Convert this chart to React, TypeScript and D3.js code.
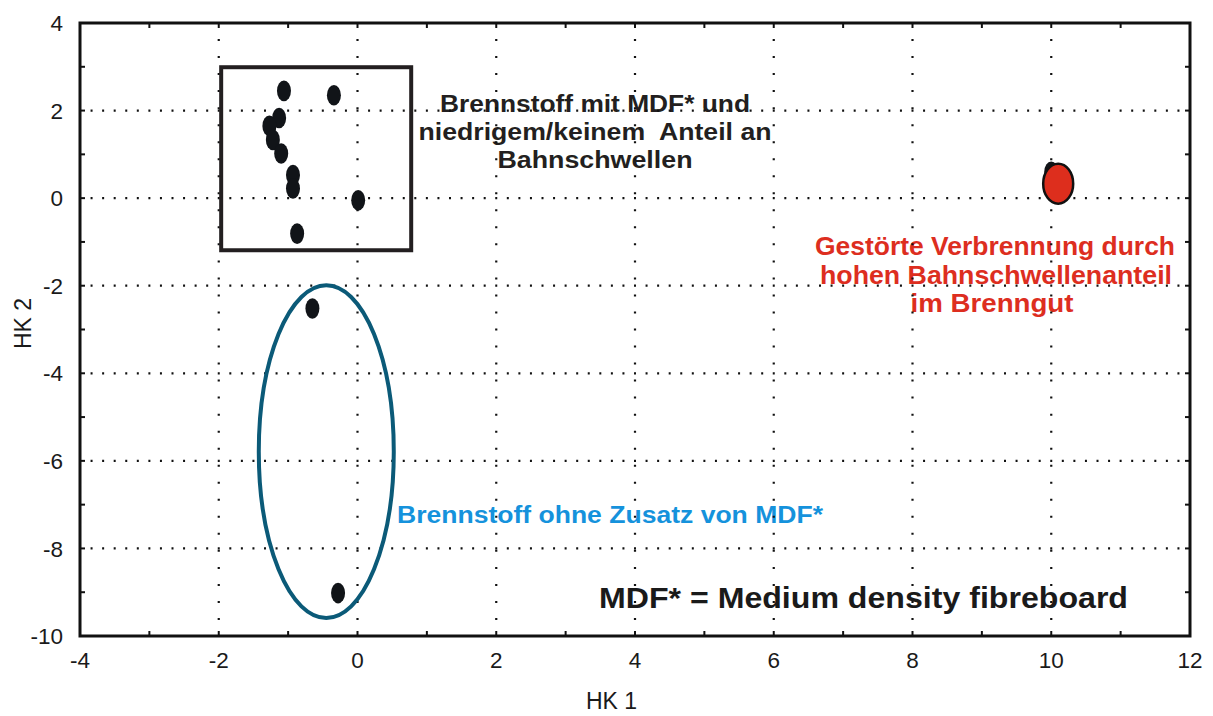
import React from "react";
import * as d3 from "d3";

const W = 1213;
const H = 716;

// data (HK1, HK2 scores)
const hk1 = [-1.06, -0.34, -1.13, -1.27, -1.22, -1.1, -0.93, -0.93, 0.01, -0.87, -0.65, -0.28, 10.0];
const hk2 = [2.45, 2.35, 1.83, 1.65, 1.33, 1.02, 0.53, 0.22, -0.05, -0.81, -2.52, -9.02, 0.6];
const redHk1 = [10.1];
const redHk2 = [0.33];

const xTickValues = [-4, -2, 0, 2, 4, 6, 8, 10, 12];
const yTickValues = [4, 2, 0, -2, -4, -6, -8, -10];
const xTickLabels = ["-4", "-2", "0", "2", "4", "6", "8", "10", "12"];
const yTickLabels = ["4", "2", "0", "-2", "-4", "-6", "-8", "-10"];

// annotation shapes in data units
const boxX = [-1.965, 0.774];
const boxY = [2.99, -1.19];
const ellCenter = [-0.45, -5.79];
const ellRadius = [0.973, 3.8];

const blackLines = ["Brennstoff mit MDF* und", "niedrigem/keinem  Anteil an", "Bahnschwellen"];
const redLines = ["Gestörte Verbrennung durch", "hohen Bahnschwellenanteil", "im Brenngut"];
const blueLabel = "Brennstoff ohne Zusatz von MDF*";
const mdfLabel = "MDF* = Medium density fibreboard";

const FONT = "'Liberation Sans', Arial, Helvetica, sans-serif";

export default function App() {
  const x = d3.scaleLinear().domain([-4, 12]).range([80, 1190]);
  const y = d3.scaleLinear().domain([-10, 4]).range([636, 23]);
  const [x0, x1] = x.range();
  const [y0, y1] = y.range();

  const minorX = d3.range(-4, 13, 1);
  const minorY = d3.range(-10, 5, 1);
  const gridX = xTickValues.filter((v) => v !== -4 && v !== 12);
  const gridY = yTickValues.filter((v) => v !== 4 && v !== -10);
  const hPeriod = (x1 - x0) / 96;
  const vPeriod = (y0 - y1) / 36;

  const blackW = [310, 353, 195];
  const blackBase = [112, 140, 168];
  const redW = [360, 352, 163];
  const redBase = [255, 283.5, 312];
  const redCx = [995, 996, 992];

  return (
    <svg
      width={W}
      height={H}
      style={{ position: "absolute", left: 0, top: 0, background: "#fff" }}
      fontFamily={FONT}
    >
      {/* annotations text */}
      <g fontWeight="bold" fill="#231f20" fontSize={23} textAnchor="middle">
        {blackLines.map((t, i) => (
          <text
            key={i}
            x={595}
            y={blackBase[i]}
            textLength={blackW[i]}
            lengthAdjust="spacingAndGlyphs"
            style={{ whiteSpace: "pre" }}
          >
            {t}
          </text>
        ))}
      </g>
      <g fontWeight="bold" fill="#dd2e1f" fontSize={25} textAnchor="middle">
        {redLines.map((t, i) => (
          <text key={i} x={redCx[i]} y={redBase[i]} textLength={redW[i]} lengthAdjust="spacingAndGlyphs">
            {t}
          </text>
        ))}
      </g>
      <text x={397} y={523} fontSize={23} fontWeight="bold" fill="#1592dc" textLength={426} lengthAdjust="spacingAndGlyphs">
        {blueLabel}
      </text>
      <text x={599} y={608} fontSize={30} fontWeight="bold" fill="#1a1a1a" textLength={529} lengthAdjust="spacingAndGlyphs">
        {mdfLabel}
      </text>

      {/* dotted grid */}
      <g stroke="#111" strokeWidth={2.2}>
        {gridY.map((v) => (
          <line
            key={"gy" + v}
            x1={x0}
            x2={x1}
            y1={y(v)}
            y2={y(v)}
            strokeDasharray={`2 ${hPeriod - 2}`}
            strokeDashoffset={1}
          />
        ))}
        {gridX.map((v) => (
          <line
            key={"gx" + v}
            x1={x(v)}
            x2={x(v)}
            y1={y0}
            y2={y1}
            strokeDasharray={`2 ${vPeriod - 2}`}
            strokeDashoffset={1}
          />
        ))}
      </g>

      {/* box */}
      <rect
        x={x(boxX[0])}
        y={y(boxY[0])}
        width={x(boxX[1]) - x(boxX[0])}
        height={y(boxY[1]) - y(boxY[0])}
        fill="none"
        stroke="#231f20"
        strokeWidth={4}
      />
      {/* ellipse */}
      <ellipse
        cx={x(ellCenter[0])}
        cy={y(ellCenter[1])}
        rx={x(ellCenter[0] + ellRadius[0]) - x(ellCenter[0])}
        ry={y(ellCenter[1] - ellRadius[1]) - y(ellCenter[1])}
        fill="none"
        stroke="#0b5a78"
        strokeWidth={4}
      />

      {/* points */}
      <g fill="#111418">
        {hk1.map((v, i) => (
          <ellipse key={i} cx={x(v)} cy={y(hk2[i])} rx={7} ry={10.3} />
        ))}
      </g>
      <g fill="#dd2e1d" stroke="#111" strokeWidth={2.5}>
        {redHk1.map((v, i) => (
          <ellipse key={i} cx={x(v)} cy={y(redHk2[i])} rx={15} ry={20} />
        ))}
      </g>

      {/* frame + ticks */}
      <rect x={x0} y={y1} width={x1 - x0} height={y0 - y1} fill="none" stroke="#111" strokeWidth={3} />
      <g stroke="#111" strokeWidth={2}>
        {minorX.map((v) => (
          <g key={"tx" + v}>
            <line x1={x(v)} x2={x(v)} y1={y0} y2={y0 - 5} />
            <line x1={x(v)} x2={x(v)} y1={y1} y2={y1 + 5} />
          </g>
        ))}
        {minorY.map((v) => (
          <g key={"ty" + v}>
            <line x1={x0} x2={x0 + 5} y1={y(v)} y2={y(v)} />
            <line x1={x1} x2={x1 - 5} y1={y(v)} y2={y(v)} />
          </g>
        ))}
      </g>

      {/* tick labels */}
      <g fontSize={22.5} fill="#1a1a1a" textAnchor="middle">
        {xTickValues.map((v, i) => (
          <text key={"lx" + v} x={x(v)} y={668}>
            {xTickLabels[i]}
          </text>
        ))}
      </g>
      <g fontSize={22.5} fill="#1a1a1a" textAnchor="end">
        {yTickValues.map((v, i) => (
          <text key={"ly" + v} x={63} y={y(v)} dy="0.36em">
            {yTickLabels[i]}
          </text>
        ))}
      </g>

      {/* axis titles */}
      <text x={611.5} y={709} fontSize={23} fill="#1a1a1a" textAnchor="middle">
        HK 1
      </text>
      <text
        transform={`translate(31,323.5) rotate(-90)`}
        fontSize={23}
        fill="#1a1a1a"
        textAnchor="middle"
      >
        HK 2
      </text>
    </svg>
  );
}
